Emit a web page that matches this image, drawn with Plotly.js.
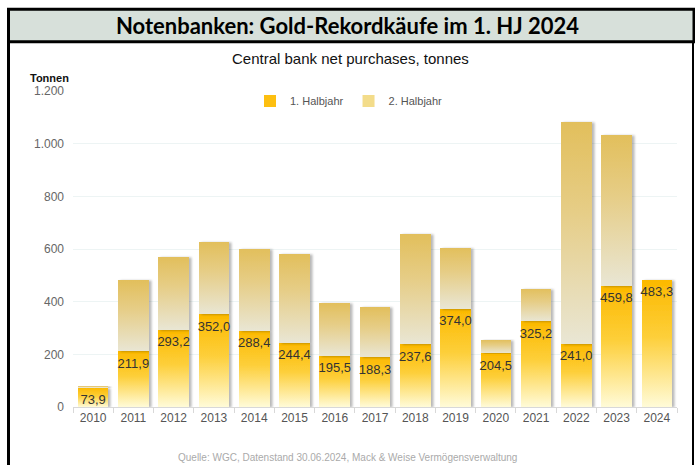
<!DOCTYPE html>
<html>
<head>
<meta charset="utf-8">
<script src="https://cdn.plot.ly/plotly-3.0.1.min.js"></script>
<style>
html,body{margin:0;padding:0;background:#fff;}
#chart{width:695px;height:465px;}
</style>
</head>
<body>
<div id="chart"></div>
<script>
// ---- data ----
const years = ["2010","2011","2012","2013","2014","2015","2016","2017","2018","2019","2020","2021","2022","2023","2024"];
const firstHalf = [73.9, 211.9, 293.2, 352.0, 288.4, 244.4, 195.5, 188.3, 237.6, 374.0, 204.5, 325.2, 241.0, 459.8, 483.3];
const secondHalf = [5.3, 269.1, 275.8, 273.0, 312.6, 335.6, 199.5, 190.7, 418.4, 231.0, 50.5, 124.8, 841.0, 572.2, null];
const firstHalfLabels = ["73,9","211,9","293,2","352,0","288,4","244,4","195,5","188,3","237,6","374,0","204,5","325,2","241,0","459,8","483,3"];
const seriesNames = ["1. Halbjahr", "2. Halbjahr"];
const yTicks = [0, 200, 400, 600, 800, 1000, 1200];

// ---- layout helpers (pixel -> paper) ----
const W = 695, H = 465;
const M = {l: 73, r: 18, t: 91, b: 58};
const PW = W - M.l - M.r, PH = H - M.t - M.b;
const px2x = p => (p - M.l) / PW;
const py2y = p => (H - M.b - p) / PH;

const font = "Liberation Sans, Arial, sans-serif";

const traces = [
  {
    type: "bar", name: seriesNames[0], x: years, y: firstHalf,
    marker: {color: "#fdbf10", line: {width: 0}},
    hoverinfo: "skip"
  },
  {
    type: "bar", name: seriesNames[1], x: years, y: secondHalf,
    marker: {color: "#f3dc8a", line: {width: 0}},
    hoverinfo: "skip"
  },
  {
    type: "scatter", mode: "markers+text", x: years, y: firstHalf, text: firstHalfLabels,
    marker: {size: 9, color: "rgba(0,0,0,0)"},
    textposition: "bottom center", cliponaxis: false, showlegend: false,
    textfont: {family: font, size: 13, color: "#333"},
    hoverinfo: "skip"
  }
];

const layout = {
  width: W, height: H,
  margin: M,
  paper_bgcolor: "#fff", plot_bgcolor: "#fff",
  barmode: "stack", bargap: 0.24,
  separators: ",.",
  showlegend: true,
  legend: {
    orientation: "h", x: px2x(349), xanchor: "center", y: py2y(101), yanchor: "middle",
    font: {family: font, size: 11, color: "#555"}, traceorder: "normal",
    bgcolor: "rgba(0,0,0,0)", itemwidth: 30
  },
  title: {
    text: "Notenbanken: Gold-Rekordkäufe im 1. HJ 2024",
    xref: "container", x: 0.5, xanchor: "center",
    yref: "container", y: 1 - 26 / H, yanchor: "middle",
    font: {family: "Lato, Open Sans, sans-serif", size: 22, weight: 700, color: "#000"}
  },
  xaxis: {
    type: "category", range: [-0.5, years.length - 0.5], autorange: false,
    showgrid: false, zeroline: false,
    showline: true, linecolor: "#d8d8d8", linewidth: 1,
    ticks: "outside", tickson: "boundaries", ticklen: 5, tickcolor: "#d8d8d8",
    tickfont: {family: font, size: 12, color: "#555"},
    fixedrange: true
  },
  yaxis: {
    range: [0, 1200], autorange: false, tickvals: yTicks, separatethousands: true,
    showgrid: true, gridcolor: "#edf4f4", zeroline: false, showline: false,
    tickfont: {family: font, size: 12, color: "#666"}, ticklabelstandoff: 8,
    fixedrange: true
  },
  annotations: [
    {text: "Central bank net purchases, tonnes", xref: "paper", yref: "paper",
     x: px2x(350), y: py2y(59), xanchor: "center", yanchor: "middle", showarrow: false,
     font: {family: font, size: 15, color: "#111"}},
    {text: "<b>Tonnen</b>", xref: "paper", yref: "paper",
     x: px2x(28), y: py2y(78), xanchor: "left", yanchor: "middle", showarrow: false,
     font: {family: font, size: 11, color: "#111"}},
    {text: "Quelle: WGC, Datenstand 30.06.2024, Mack & Weise Vermögensverwaltung", xref: "paper", yref: "paper",
     x: px2x(347), y: py2y(457), xanchor: "center", yanchor: "middle", showarrow: false,
     font: {family: font, size: 10, color: "#aaa"}}
  ],
  shapes: [
    {type: "rect", xref: "paper", yref: "paper", x0: px2x(8.5), x1: px2x(694), y0: py2y(41.8), y1: py2y(9.3),
     line: {color: "#000", width: 3}, fillcolor: "#d7e0da", layer: "below"},
    {type: "line", xref: "paper", yref: "paper", x0: px2x(8.5), x1: px2x(8.5), y0: py2y(41), y1: py2y(470),
     line: {color: "#000", width: 3}},
    {type: "line", xref: "paper", yref: "paper", x0: px2x(693), x1: px2x(693), y0: py2y(41), y1: py2y(470),
     line: {color: "#000", width: 2}}
  ]
};

Plotly.newPlot("chart", traces, layout, {displayModeBar: false, staticPlot: true}).then(gd => {
  const ns = "http://www.w3.org/2000/svg";
  const svg = gd.querySelector("svg.main-svg");
  let defs = svg.querySelector("defs");
  if (!defs) { defs = document.createElementNS(ns, "defs"); svg.insertBefore(defs, svg.firstChild); }
  function grad(id, stops) {
    const g = document.createElementNS(ns, "linearGradient");
    g.setAttribute("id", id);
    g.setAttribute("x1", "0"); g.setAttribute("y1", "0");
    g.setAttribute("x2", "0"); g.setAttribute("y2", "1");
    stops.forEach(s => {
      const st = document.createElementNS(ns, "stop");
      st.setAttribute("offset", s[0]);
      st.setAttribute("stop-color", s[1]);
      g.appendChild(st);
    });
    defs.appendChild(g);
  }
  grad("gH1", [[0, "#fcb900"], [0.45, "#fdcf3a"], [1, "#fffbd8"]]);
  grad("gH2", [[0, "#e2bf5c"], [0.4, "#e6cd86"], [1, "#e9e6d4"]]);
  const f = document.createElementNS(ns, "filter");
  f.setAttribute("id", "barShadow");
  f.setAttribute("x", "-20%"); f.setAttribute("y", "-5%");
  f.setAttribute("width", "150%"); f.setAttribute("height", "110%");
  const ds = document.createElementNS(ns, "feDropShadow");
  ds.setAttribute("dx", "2.5"); ds.setAttribute("dy", "0.5");
  ds.setAttribute("stdDeviation", "1.3");
  ds.setAttribute("flood-color", "#000"); ds.setAttribute("flood-opacity", "0.28");
  f.appendChild(ds);
  defs.appendChild(f);
  const groups = gd.querySelectorAll(".barlayer .trace");
  const fills = ["url(#gH1)", "url(#gH2)"];
  groups.forEach((grp, i) => {
    grp.querySelectorAll("path").forEach(p => {
      p.style.fill = fills[i] || p.style.fill;
      p.style.filter = "url(#barShadow)";
    });
  });
});
</script>
</body>
</html>
